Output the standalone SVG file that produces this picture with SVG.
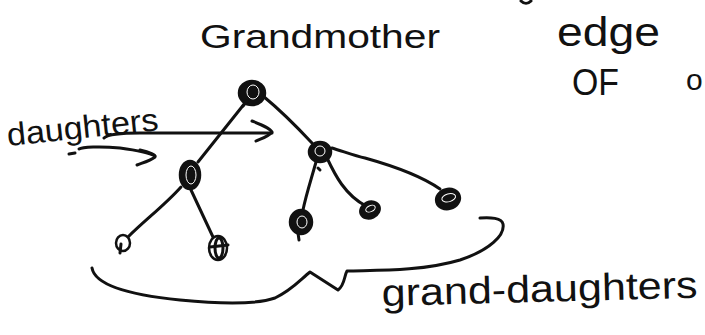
<svg xmlns="http://www.w3.org/2000/svg" width="705" height="335" viewBox="0 0 705 335">
<style>
.ink{fill:none;stroke:#111;stroke-width:3;stroke-linecap:round;stroke-linejoin:round}
.node{fill:#111;stroke:#111;stroke-width:2.5}
.scrib{fill:none;stroke:#fff;stroke-width:1}
.hw{font-family:"Liberation Sans","DejaVu Sans",sans-serif;fill:#111}
</style>
<rect width="705" height="335" fill="#fff"/>
<g id="labels">
<text class="hw" x="200" y="48" font-size="34" textLength="240" lengthAdjust="spacingAndGlyphs">Grandmother</text>
<text class="hw" x="557" y="46" font-size="40" textLength="103" lengthAdjust="spacingAndGlyphs">edge</text>
<text class="hw" x="572" y="95" font-size="36" textLength="47" lengthAdjust="spacingAndGlyphs">OF</text>
<text class="hw" x="686" y="90" font-size="30">o</text>
<text class="hw" x="8" y="146" font-size="32" textLength="152" lengthAdjust="spacingAndGlyphs" transform="rotate(-6 8 146)">daughters</text>
<text class="hw" x="382" y="306" font-size="38" textLength="316" lengthAdjust="spacingAndGlyphs" transform="rotate(-1.5 382 306)">grand-daughters</text>
</g>
<g id="connectors">
<path class="ink" d="M245,103 L198,162"/>
<path class="ink" d="M263,96 C280,110 298,128 312,143"/>
<path class="ink" d="M181,187 C165,205 145,220 128,237"/>
<path class="ink" d="M191,190 C198,205 206,222 213,237"/>
<path class="ink" d="M316,162 C311,180 306,195 303,210"/>
<path class="ink" d="M327,158 C335,175 345,195 366,206"/>
<path class="ink" d="M332,148 C345,152 355,156 365,158 C390,165 420,175 440,189"/>
<path class="ink" d="M104,138 C108,134 120,133 140,133 L272,133"/>
<path class="ink" d="M252,121 C262,125 270,128 272,132 C268,137 260,139 256,141"/>
<path class="ink" d="M79,149 C82,147 100,146 120,148 C135,150 148,152 155,156"/>
<path class="ink" d="M140,150 C150,152 156,155 155,157 C150,161 142,163 137,165"/>
<path class="ink" d="M69,154 L75,153" stroke-width="2"/>
<path class="ink" d="M92,268 C95,285 130,295 180,300 C220,304 255,305 275,298 C292,290 300,280 310,272 L338,290 C345,285 344,276 347,271 C370,270 420,272 460,260 C490,250 505,235 503,224 C502,218 490,217 480,218"/>
<path class="ink" d="M521,1 C524,4 528,4 531,1" stroke-width="2"/>
</g>
<g id="grandmother">
<ellipse class="node" cx="252" cy="93" rx="13" ry="12"/>
<ellipse class="scrib" cx="253" cy="92" rx="6" ry="7"/>
<path class="ink" d="M247,101 L243,106"/>
</g>
<g id="daughter-left">
<ellipse class="node" cx="190" cy="175" rx="10" ry="14"/>
<ellipse class="scrib" cx="191" cy="175" rx="5" ry="9"/>
</g>
<g id="daughter-right">
<ellipse class="node" cx="320" cy="152" rx="11" ry="10"/>
<ellipse class="scrib" cx="320" cy="151" rx="5" ry="5"/>
<path class="ink" d="M318,168 L320,170" stroke-width="2"/>
</g>
<g id="granddaughter-1">
<ellipse class="node" cx="123" cy="243" rx="7" ry="8" style="fill:#fff"/>
<path class="ink" d="M121,244 L120,253"/>
</g>
<g id="granddaughter-2">
<ellipse class="node" cx="218" cy="248" rx="9" ry="12" style="fill:#fff"/>
<ellipse class="ink" cx="219" cy="248" rx="4" ry="10" stroke-width="2"/>
<path class="ink" d="M210,247 L228,245" stroke-width="2"/>
</g>
<g id="granddaughter-3">
<ellipse class="node" cx="301" cy="222" rx="11" ry="12"/>
<ellipse class="scrib" cx="302" cy="222" rx="5" ry="6"/>
<path class="ink" d="M298,233 L299,240"/>
</g>
<g id="granddaughter-4">
<ellipse class="node" cx="370" cy="210" rx="10" ry="8" transform="rotate(-25 370 210)"/>
<ellipse class="scrib" cx="371" cy="209" rx="5" ry="3" transform="rotate(-25 370 210)"/>
</g>
<g id="granddaughter-5">
<ellipse class="node" cx="448" cy="199" rx="12" ry="10" transform="rotate(-15 448 199)"/>
<ellipse class="scrib" cx="449" cy="198" rx="7" ry="4" transform="rotate(-15 448 199)"/>
</g>
</svg>
